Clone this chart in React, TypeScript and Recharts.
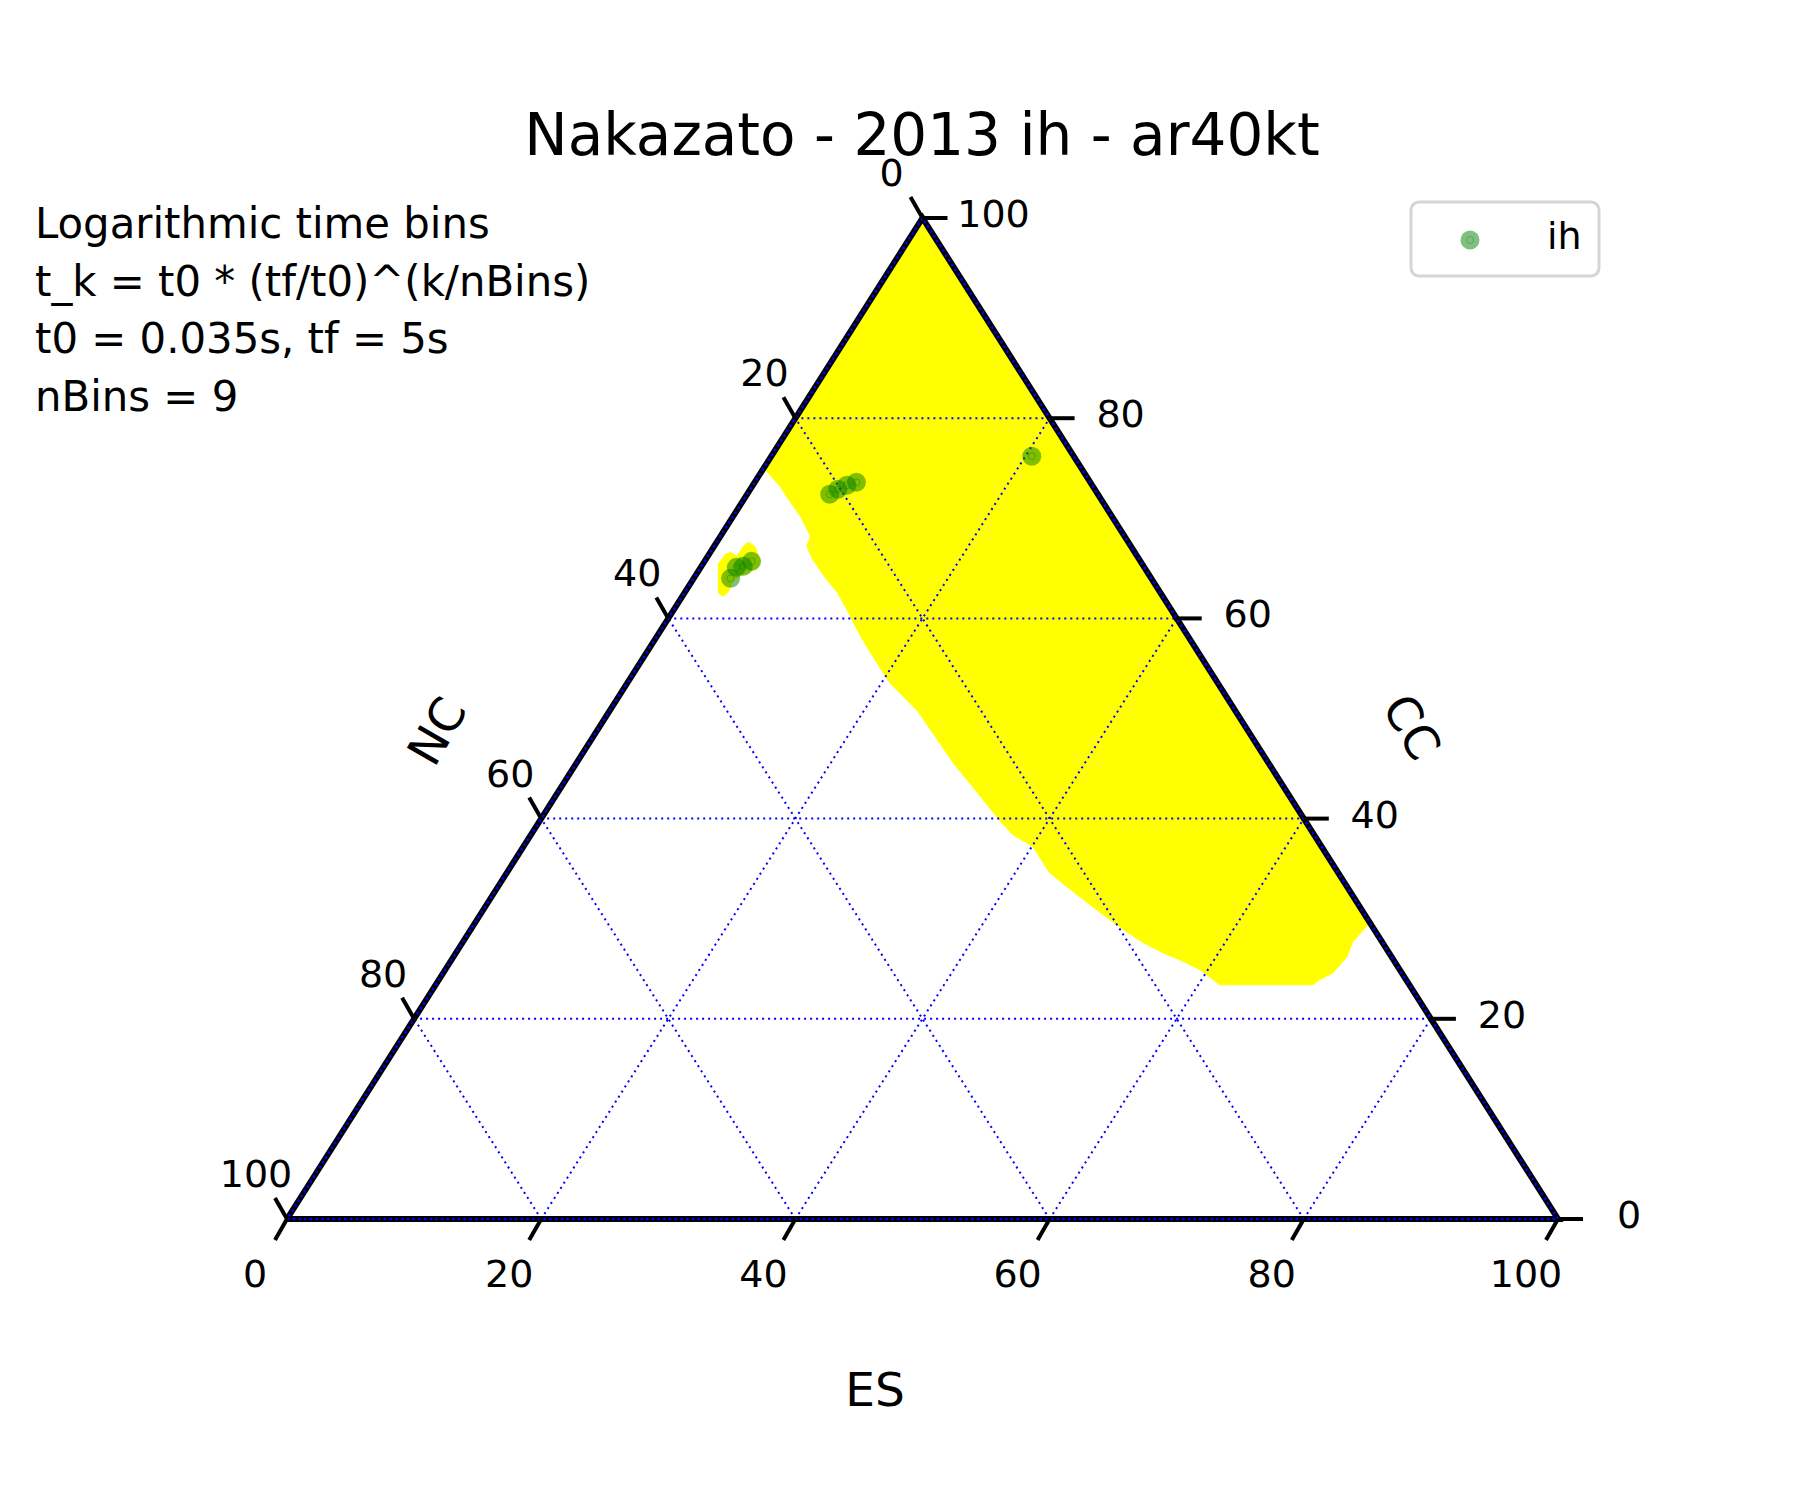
import React from "react";
import { ScatterChart, Scatter, XAxis, YAxis } from "recharts";

const FONT = "'DejaVu Sans', sans-serif";

// ternary coordinates: ES (bottom axis), CC (right axis), NC = 100 - ES - CC (left axis)
const IH_ES = [6.5, 6.9, 7.4, 8.0, 20.5, 2.9, 2.8, 3.3, 3.7];
const IH_CC = [72.4, 72.9, 73.3, 73.6, 76.2, 64.0, 65.1, 65.2, 65.7];

// yellow allowed region (outline)
const REGION_ES = [0, 70.4, 70.0, 70.3, 70.0, 69.3, 69.0, 61.7, 59.4, 57.3, 55.6, 53.6, 51.7, 48.7, 45.2, 42.7, 40.1, 37.9, 36.3, 32.9, 29.6, 24.3, 20.6, 17.0, 15.4, 13.6, 12.0, 10.5, 8.4, 7.3, 7.1, 5.3, 3.5, 2.2, 0];
const REGION_CC = [100, 29.6, 27.7, 26.2, 24.6, 23.9, 23.4, 23.4, 24.9, 25.9, 26.6, 27.6, 28.7, 30.6, 32.9, 34.6, 37.2, 38.4, 39.7, 42.7, 45.6, 50.7, 53.6, 57.2, 58.9, 60.9, 62.6, 63.9, 65.9, 67.2, 68.2, 70.2, 71.9, 73.2, 75.0];

// small yellow island around the lower cluster
const ISLAND_ES = [1.2, 1.3, 1.6, 2.3, 2.3, 2.5, 3.2, 3.7, 4.4, 4.5, 4.1, 3.5, 3.2, 3.4, 3.2, 2.6];
const ISLAND_CC = [65.4, 66.4, 66.6, 66.2, 67.2, 67.6, 67.2, 66.6, 65.7, 65.1, 64.6, 64.2, 63.7, 62.7, 62.2, 62.6];

const GRID_STEPS = [20, 40, 60, 80];
const ES_TICKS = [0, 20, 40, 60, 80, 100];
const CC_TICKS = [0, 20, 40, 60, 80, 100];
const NC_TICKS = [0, 20, 40, 60, 80, 100];

const NOTE_LINES = [
  "Logarithmic time bins",
  "t_k = t0 * (tf/t0)^(k/nBins)",
  "t0 = 0.035s, tf = 5s",
  "nBins = 9",
];

// project (ES, CC) onto plane: NC=100 bottom-left, ES=100 bottom-right, CC=100 top
const proj = (es: number, cc: number, label?: number) => ({ x: es + cc / 2, y: cc, label });

const region = REGION_ES.map((es, i) => proj(es, REGION_CC[i]));
const island = ISLAND_ES.map((es, i) => proj(es, ISLAND_CC[i]));
const ihPoints = IH_ES.map((es, i) => proj(es, IH_CC[i]));

const gridLines = [
  ...GRID_STEPS.map((v) => [proj(0, v), proj(100 - v, v)]), // CC const
  ...GRID_STEPS.map((v) => [proj(v, 0), proj(v, 100 - v)]), // ES const
  ...GRID_STEPS.map((v) => [proj(100 - v, 0), proj(0, 100 - v)]), // NC const
];
const border = [proj(0, 0), proj(100, 0), proj(0, 100), proj(0, 0)];

const esTicks = ES_TICKS.map((v) => proj(v, 0, v));
const ccTicks = CC_TICKS.map((v) => proj(100 - v, v, v));
const ncTicks = NC_TICKS.map((v) => proj(0, 100 - v, v));

const hidden = () => <g />;

const tickShape = (dx: number, dy: number, lx: number, ly: number) => (p: any) => {
  const label = p.payload?.label ?? p.label;
  return (
    <g>
      <line x1={p.cx} y1={p.cy} x2={p.cx + dx} y2={p.cy + dy} stroke="#000" strokeWidth={4} />
      <text x={p.cx + lx} y={p.cy + ly} textAnchor="middle" dominantBaseline="central" fontSize={38} fontFamily={FONT} fill="#000">
        {label}
      </text>
    </g>
  );
};

const dotShape = (p: any) => (
  <g>
    <circle cx={p.cx} cy={p.cy} r={9.5} fill="#008000" fillOpacity={0.5} />
    <circle cx={p.cx} cy={p.cy} r={3.5} fill="none" stroke="#006000" strokeOpacity={0.3} strokeWidth={1} />
  </g>
);

export default function App() {
  return (
    <div style={{ position: "absolute", left: 0, top: 0, width: 1800, height: 1500, background: "#fff" }}>
      <ScatterChart width={1800} height={1500} margin={{ left: 287, right: 242, top: 218, bottom: 281 }}>
        <XAxis type="number" dataKey="x" domain={[0, 100]} hide />
        <YAxis type="number" dataKey="y" domain={[0, 100]} hide />

        <Scatter data={region} shape={hidden} line={{ fill: "#ffff00", stroke: "#ffff00", strokeWidth: 1 }} isAnimationActive={false} />
        <Scatter data={island} shape={hidden} line={{ fill: "#ffff00", stroke: "#ffff00", strokeWidth: 1 }} isAnimationActive={false} />

        {gridLines.map((seg, i) => (
          <Scatter
            key={`grid-${i}`}
            data={seg}
            shape={hidden}
            line={{ stroke: "#0000ff", strokeWidth: 2, strokeDasharray: "2 4" }}
            isAnimationActive={false}
          />
        ))}

        <Scatter data={border} shape={hidden} line={{ stroke: "#000", strokeWidth: 6 }} isAnimationActive={false} />
        <Scatter data={border} shape={hidden} line={{ stroke: "#0000ff", strokeWidth: 2.5, strokeDasharray: "2.5 3.2" }} isAnimationActive={false} />

        <Scatter data={esTicks} shape={tickShape(-12, 21, -32, 55)} isAnimationActive={false} />
        <Scatter data={ccTicks} shape={tickShape(25, 0, 71, -4)} isAnimationActive={false} />
        <Scatter data={ncTicks} shape={tickShape(-12, -21, -31, -45)} isAnimationActive={false} />

        <Scatter name="ih" data={ihPoints} shape={dotShape} isAnimationActive={false} />
      </ScatterChart>

      <svg width={1800} height={1500} style={{ position: "absolute", left: 0, top: 0, pointerEvents: "none" }}>
        <text x={922} y={155} textAnchor="middle" fontSize={58} fontFamily={FONT} fill="#000">
          Nakazato - 2013 ih - ar40kt
        </text>
        {NOTE_LINES.map((t, i) => (
          <text key={t} x={35} y={238 + i * 57.7} fontSize={41.8} fontFamily={FONT} fill="#000">
            {t}
          </text>
        ))}
        <text x={875} y={1389} textAnchor="middle" dominantBaseline="central" fontSize={47} fontFamily={FONT}>
          ES
        </text>
        <text x={437} y={731} textAnchor="middle" dominantBaseline="central" fontSize={47} fontFamily={FONT} transform="rotate(-60 437 731)">
          NC
        </text>
        <text x={1412} y={727} textAnchor="middle" dominantBaseline="central" fontSize={47} fontFamily={FONT} transform="rotate(60 1412 727)">
          CC
        </text>

        <rect x={1411} y={202} width={188} height={74} rx={8} fill="#fff" fillOpacity={0.8} stroke="#d5d5d5" strokeWidth={3} />
        <circle cx={1470} cy={240} r={9.5} fill="#008000" fillOpacity={0.5} />
        <circle cx={1470} cy={240} r={3.5} fill="none" stroke="#006000" strokeOpacity={0.3} strokeWidth={1} />
        <text x={1547} y={249} fontSize={38} fontFamily={FONT} fill="#000">
          ih
        </text>
      </svg>
    </div>
  );
}
